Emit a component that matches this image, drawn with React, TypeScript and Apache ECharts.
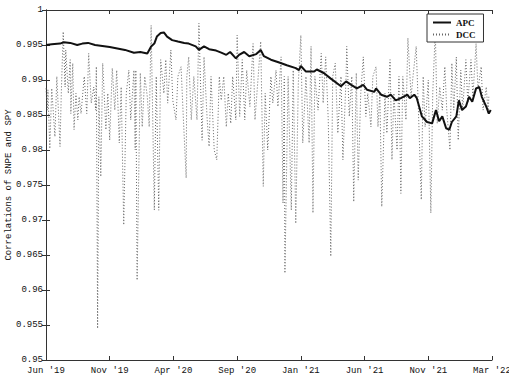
import React, { useEffect, useRef } from "react";
import * as echarts from "echarts";

const xLabels = ["Jun '19", "Nov '19", "Apr '20", "Sep '20", "Jan '21", "Jun '21", "Nov '21", "Mar '22"];
const yTickStep = 0.005;

// trading-day index (0..700) and APC correlation
const apcIdx = [0, 9, 22, 28, 38, 49, 57, 66, 77, 100, 124, 138, 148, 159, 165, 170, 174, 180, 185, 190, 198, 207, 217, 224, 235, 240, 248, 256, 267, 275, 283, 289, 298, 303, 311, 319, 330, 337, 342, 353, 366, 378, 392, 397, 400, 408, 421, 425, 436, 447, 463, 471, 479, 488, 498, 504, 515, 518, 526, 535, 541, 549, 557, 563, 567, 571, 578, 582, 590, 598, 606, 612, 617, 622, 628, 633, 637, 644, 648, 653, 659, 664, 669, 675, 680, 684, 691, 695, 698];
const apcVal = [0.995, 0.9951, 0.9952, 0.9954, 0.9953, 0.995, 0.9952, 0.9953, 0.995, 0.9947, 0.9943, 0.9939, 0.994, 0.9938, 0.9948, 0.9952, 0.9962, 0.9967, 0.9968, 0.9962, 0.9957, 0.9955, 0.9953, 0.9952, 0.9948, 0.9943, 0.9948, 0.9944, 0.9942, 0.9939, 0.9936, 0.994, 0.9931, 0.9936, 0.994, 0.9934, 0.9937, 0.9943, 0.9934, 0.9929, 0.9925, 0.9921, 0.9917, 0.9914, 0.992, 0.9912, 0.9912, 0.9915, 0.991, 0.9902, 0.9891, 0.9898, 0.9893, 0.9888, 0.9893, 0.9886, 0.9883, 0.9888, 0.9879, 0.9876, 0.9879, 0.9871, 0.9874, 0.9877, 0.9879, 0.9874, 0.9879, 0.9874, 0.9848, 0.984, 0.9838, 0.9857, 0.9841, 0.9848, 0.9831, 0.9829, 0.984, 0.9848, 0.9871, 0.9857, 0.9862, 0.9876, 0.9869, 0.9888, 0.989, 0.9876, 0.9862, 0.9852, 0.9857];

// trading-day index and DCC correlation
const dccIdx = [0, 2, 3, 6, 9, 14, 17, 22, 24, 27, 30, 31, 35, 38, 39, 42, 44, 47, 50, 52, 55, 60, 64, 67, 71, 75, 78, 79, 81, 83, 86, 89, 94, 97, 100, 104, 108, 111, 115, 118, 122, 126, 130, 133, 138, 140, 141, 143, 148, 151, 155, 159, 162, 165, 170, 173, 177, 180, 185, 188, 191, 196, 199, 204, 207, 212, 215, 220, 221, 224, 228, 232, 237, 240, 245, 248, 253, 256, 259, 264, 268, 272, 275, 279, 283, 286, 290, 293, 298, 300, 304, 308, 312, 315, 320, 325, 328, 333, 337, 341, 344, 348, 353, 356, 361, 364, 369, 372, 374, 375, 380, 385, 388, 392, 396, 400, 403, 408, 413, 416, 419, 422, 427, 432, 435, 439, 443, 447, 450, 454, 458, 463, 466, 471, 472, 476, 480, 483, 487, 490, 494, 498, 502, 505, 510, 513, 518, 521, 524, 527, 532, 535, 540, 543, 546, 551, 554, 557, 560, 565, 568, 573, 576, 581, 584, 589, 592, 595, 600, 604, 607, 611, 614, 618, 622, 626, 629, 634, 637, 640, 644, 647, 651, 654, 659, 662, 667, 670, 675, 678, 683, 686, 691, 694, 695];
const dccVal = [0.9888, 0.9857, 0.9886, 0.9802, 0.9888, 0.9819, 0.9905, 0.9805, 0.9881, 0.9969, 0.989, 0.9943, 0.9881, 0.9929, 0.9852, 0.9924, 0.9829, 0.9881, 0.9843, 0.9876, 0.9852, 0.9905, 0.9852, 0.9938, 0.9867, 0.989, 0.9857, 0.9919, 0.9545, 0.9876, 0.9762, 0.9924, 0.9829, 0.9881, 0.9814, 0.9917, 0.9857, 0.9914, 0.981, 0.989, 0.9693, 0.9881, 0.9914, 0.9843, 0.9914, 0.98, 0.9914, 0.9614, 0.991, 0.9833, 0.9905, 0.9876, 0.9833, 0.9978, 0.9714, 0.9905, 0.9714, 0.9929, 0.9881, 0.9929, 0.9867, 0.9943, 0.9871, 0.9843, 0.9905, 0.9919, 0.9857, 0.976, 0.9905, 0.9933, 0.9843, 0.9905, 0.9843, 0.9981, 0.9814, 0.9933, 0.9843, 0.9805, 0.9905, 0.98, 0.9786, 0.9905, 0.9871, 0.9905, 0.9833, 0.9881, 0.9838, 0.9905, 0.9843, 0.9964, 0.9848, 0.9929, 0.9843, 0.9914, 0.9862, 0.9952, 0.9843, 0.9905, 0.9955, 0.9748, 0.9881, 0.98, 0.9905, 0.9867, 0.9914, 0.9862, 0.9933, 0.9724, 0.9905, 0.9624, 0.9905, 0.9714, 0.9914, 0.9695, 0.9895, 0.9964, 0.981, 0.9905, 0.981, 0.9948, 0.971, 0.9905, 0.9857, 0.9938, 0.9867, 0.9933, 0.9843, 0.9648, 0.9905, 0.9924, 0.9824, 0.9905, 0.9786, 0.9905, 0.9948, 0.9848, 0.9905, 0.9726, 0.991, 0.9757, 0.9881, 0.9933, 0.9848, 0.9881, 0.9833, 0.9905, 0.9919, 0.9833, 0.9881, 0.9719, 0.9881, 0.9824, 0.9929, 0.9786, 0.9881, 0.98, 0.9905, 0.9738, 0.9905, 0.9843, 0.996, 0.9876, 0.9905, 0.9948, 0.9871, 0.9729, 0.9905, 0.9833, 0.99, 0.971, 0.9881, 0.9971, 0.9838, 0.989, 0.9857, 0.9919, 0.9857, 0.98, 0.9924, 0.9857, 0.9933, 0.9814, 0.9914, 0.9857, 0.9929, 0.9867, 0.9929, 0.9876, 0.9952, 0.9886, 0.9919, 0.9857, 0.989, 0.9852, 0.9876];

const MONO = "'Liberation Mono', 'DejaVu Sans Mono', monospace";
const AXIS_COLOR = "#333";

export default function App() {
  const ref = useRef<HTMLDivElement>(null);
  useEffect(() => {
    if (!ref.current) return;
    const chart = echarts.init(ref.current, null, { renderer: "svg" });
    const xMax = (xLabels.length - 1) * 100;
    const axisLineStyle = { lineStyle: { color: AXIS_COLOR, width: 1 } };
    chart.setOption({
      animation: false,
      backgroundColor: "#fff",
      grid: { left: 46, right: 17, top: 10, bottom: 19, containLabel: false, outerBoundsMode: "none" },
      legend: {
        orient: "vertical",
        left: 427,
        top: 14,
        backgroundColor: "#fff",
        borderColor: AXIS_COLOR,
        borderWidth: 1,
        borderRadius: 0,
        padding: [4, 8, 3, 5],
        itemWidth: 18,
        itemHeight: 8,
        itemGap: 3,
        itemStyle: { opacity: 0 },
        textStyle: { fontFamily: "'Liberation Serif', serif", fontWeight: "bold", fontSize: 9, color: "#111" },
        data: ["APC", "DCC"],
      },
      xAxis: [
        {
          type: "value",
          min: 0,
          max: xMax,
          interval: 100,
          axisLine: axisLineStyle,
          axisTick: { inside: true, length: 4, lineStyle: { color: AXIS_COLOR } },
          splitLine: { show: false },
          axisLabel: {
            margin: 6,
            fontFamily: MONO,
            fontSize: 9,
            color: "#111",
            formatter: (v: number) => xLabels[Math.round(v / 100)] ?? "",
          },
        },
        {
          type: "value",
          position: "top",
          min: 0,
          max: xMax,
          interval: 100,
          axisLine: axisLineStyle,
          axisTick: { inside: true, length: 4, lineStyle: { color: AXIS_COLOR } },
          splitLine: { show: false },
          axisLabel: { show: false },
        },
      ],
      yAxis: [
        {
          type: "value",
          min: 0.95,
          max: 1,
          interval: yTickStep,
          name: "Correlations of SNPE and SPY",
          nameLocation: "middle",
          nameGap: 33,
          nameMoveOverlap: false,
          nameTextStyle: { fontFamily: MONO, fontSize: 9, color: "#111" },
          axisLine: { show: true, ...axisLineStyle },
          axisTick: { show: true, inside: true, length: 4, lineStyle: { color: AXIS_COLOR } },
          splitLine: { show: false },
          axisLabel: {
            margin: 3,
            fontFamily: MONO,
            fontSize: 9,
            color: "#111",
            formatter: (v: number) => String(+v.toFixed(3)),
          },
        },
        {
          type: "value",
          position: "right",
          min: 0.95,
          max: 1,
          interval: yTickStep,
          axisLine: { show: true, ...axisLineStyle },
          axisTick: { show: true, inside: true, length: 4, lineStyle: { color: AXIS_COLOR } },
          splitLine: { show: false },
          axisLabel: { show: false },
        },
      ],
      series: [
        {
          name: "DCC",
          type: "line",
          xAxisIndex: 0,
          yAxisIndex: 0,
          symbol: "none",
          z: 2,
          lineStyle: { color: "#666", width: 1, type: [1, 2] },
          itemStyle: { color: "#666" },
          data: dccIdx.map((d, i) => [d, dccVal[i]]),
        },
        {
          name: "APC",
          type: "line",
          xAxisIndex: 0,
          yAxisIndex: 0,
          symbol: "none",
          z: 3,
          lineStyle: { color: "#111", width: 2 },
          itemStyle: { color: "#111" },
          data: apcIdx.map((d, i) => [d, apcVal[i]]),
        },
      ],
    });
    return () => chart.dispose();
  }, []);
  return <div ref={ref} style={{ position: "fixed", left: 0, top: 0, width: 509, height: 379 }} />;
}
